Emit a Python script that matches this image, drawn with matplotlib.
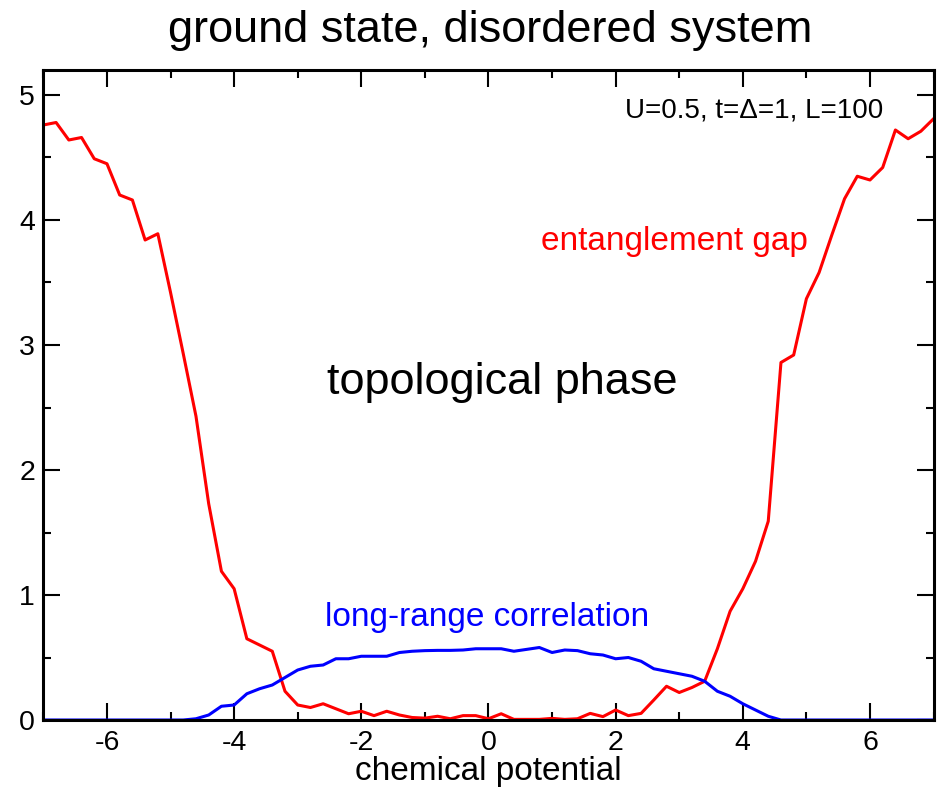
import numpy as np
import matplotlib
matplotlib.use("Agg")
import matplotlib.pyplot as plt
from matplotlib.ticker import MultipleLocator, FuncFormatter

plt.rcParams["font.family"] = ["Liberation Sans", "DejaVu Sans"]

# chemical potential grid, step 0.2 from -7 to 7
mu = np.round(np.arange(-7.0, 7.0001, 0.2), 2)

entanglement_gap = [
    4.76, 4.78, 4.64, 4.66, 4.49, 4.45, 4.20, 4.16, 3.84, 3.89,
    3.42, 2.93, 2.43, 1.73, 1.19, 1.05, 0.65, 0.60, 0.55, 0.23,
    0.12, 0.10, 0.13, 0.09, 0.05, 0.07, 0.035, 0.07, 0.04, 0.02,
    0.015, 0.03, 0.01, 0.035, 0.035, 0.01, 0.05, 0.005, 0.005, 0.005,
    0.013, 0.005, 0.01, 0.053, 0.027, 0.08, 0.035, 0.053, 0.16, 0.27,
    0.22, 0.26, 0.31, 0.57, 0.87, 1.05, 1.27, 1.59, 2.86, 2.92,
    3.37, 3.58, 3.88, 4.17, 4.35, 4.32, 4.42, 4.72, 4.65, 4.71,
    4.81,
]

long_range_corr = [
    0.0, 0.0, 0.0, 0.0, 0.0, 0.0, 0.0, 0.0, 0.0, 0.0,
    0.0, 0.0, 0.01, 0.04, 0.11, 0.12, 0.21, 0.25, 0.28, 0.34,
    0.40, 0.43, 0.44, 0.49, 0.49, 0.51, 0.51, 0.51, 0.54, 0.55,
    0.555, 0.557, 0.557, 0.56, 0.57, 0.57, 0.57, 0.55, 0.565, 0.58,
    0.54, 0.56, 0.555, 0.53, 0.52, 0.49, 0.50, 0.47, 0.41, 0.39,
    0.37, 0.35, 0.31, 0.23, 0.19, 0.13, 0.08, 0.03, 0.0, 0.0,
    0.0, 0.0, 0.0, 0.0, 0.0, 0.0, 0.0, 0.0, 0.0, 0.0,
    0.0,
]

fig = plt.figure(figsize=(9.41, 7.90), dpi=100)
ax = fig.add_axes([0.0461, 0.0886, 0.946, 0.8228])

ax.plot(mu, entanglement_gap, color="#ff0000", linewidth=2.2)
ax.plot(mu, long_range_corr, color="#0000ff", linewidth=2.2)

ax.set_xlim(-7, 7)
ax.set_ylim(0, 5.2)
ax.xaxis.set_major_locator(MultipleLocator(2))
ax.xaxis.set_minor_locator(MultipleLocator(1))
ax.yaxis.set_major_locator(MultipleLocator(1))
ax.yaxis.set_minor_locator(MultipleLocator(0.5))
# plain hyphen for negatives, like the original
ax.xaxis.set_major_formatter(FuncFormatter(lambda v, p: f"{v:g}"))
ax.yaxis.set_major_formatter(FuncFormatter(lambda v, p: f"{v:g}"))
ax.tick_params(which="both", direction="in", top=True, right=True, width=1.5, labelsize=20.5)
ax.tick_params(which="major", length=12)
ax.tick_params(which="minor", length=6)
ax.tick_params(axis="x", pad=7)
ax.tick_params(axis="y", pad=6)
for spine in ax.spines.values():
    spine.set_linewidth(2.2)

ax.set_xlabel("chemical potential", fontsize=24, labelpad=0)
fig.text(0.521, 0.961, "ground state, disordered system", ha="center", va="center", fontsize=32.5)

ax.text(0.943, 0.938, "U=0.5, t=\u0394=1, L=100", transform=ax.transAxes, ha="right", va="center", fontsize=20)
ax.text(2.93, 3.83, "entanglement gap", color="#ff0000", ha="center", va="center", fontsize=24)
ax.text(0.22, 2.70, "topological phase", color="black", ha="center", va="center", fontsize=32.5)
ax.text(-0.02, 0.82, "long-range correlation", color="#0000ff", ha="center", va="center", fontsize=24)

fig.savefig("out.png", dpi=100)
